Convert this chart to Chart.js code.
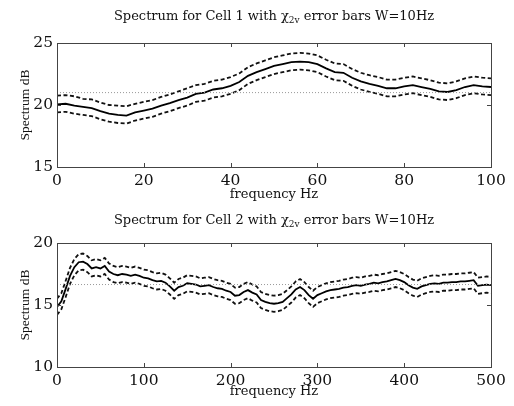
<!DOCTYPE html>
<html>
<head>
<meta charset="utf-8">
<script src="https://cdn.jsdelivr.net/npm/chart.js@4.4.1/dist/chart.umd.min.js"></script>
<style>
  body { margin: 0; background: #fff; }
  #wrap { position: relative; width: 514px; height: 406px; }
  canvas { position: absolute; left: 0; }
</style>
</head>
<body>
<div id="wrap">
  <canvas id="cell1" width="514" height="202" style="top:0"></canvas>
  <canvas id="cell2" width="514" height="199" style="top:200px"></canvas>
</div>
<script>
"use strict"

// Cell 1: spectrum every 2 Hz from 0 to 100 Hz (dB)
const step1 = 2;
const spec1 = [20.05, 20.1, 19.95, 19.85, 19.75, 19.5, 19.3, 19.2, 19.15, 19.4,
  19.55, 19.7, 19.95, 20.15, 20.4, 20.6, 20.9, 21.0, 21.25, 21.35,
  21.55, 21.85, 22.35, 22.65, 22.9, 23.15, 23.3, 23.45, 23.5, 23.45,
  23.3, 22.95, 22.65, 22.6, 22.2, 21.9, 21.7, 21.55, 21.35, 21.35,
  21.5, 21.6, 21.45, 21.3, 21.1, 21.05, 21.2, 21.45, 21.6, 21.5, 21.45];
const upper1 = [20.75, 20.8, 20.7, 20.5, 20.45, 20.2, 20.0, 19.95, 19.9, 20.1,
  20.25, 20.4, 20.65, 20.85, 21.1, 21.35, 21.6, 21.7, 21.95, 22.05,
  22.25, 22.55, 23.05, 23.35, 23.6, 23.85, 24.0, 24.15, 24.2, 24.15,
  24.0, 23.65, 23.35, 23.3, 22.9, 22.6, 22.4, 22.25, 22.05, 22.05,
  22.2, 22.3, 22.15, 22.0, 21.8, 21.75, 21.9, 22.15, 22.3, 22.2, 22.15];
const lower1 = [19.4, 19.45, 19.3, 19.2, 19.1, 18.85, 18.65, 18.55, 18.5, 18.75,
  18.9, 19.05, 19.3, 19.5, 19.75, 19.95, 20.25, 20.35, 20.6, 20.7,
  20.9, 21.2, 21.7, 22.0, 22.25, 22.5, 22.65, 22.8, 22.85, 22.8,
  22.65, 22.3, 22.0, 21.95, 21.55, 21.25, 21.05, 20.9, 20.7, 20.7,
  20.85, 20.95, 20.8, 20.65, 20.45, 20.4, 20.55, 20.8, 20.95, 20.85, 20.8];
const level1 = 21.0;

// Cell 2: spectrum every 5 Hz from 0 to 500 Hz (dB)
const step2 = 5;
const spec2 = [14.85, 15.3, 16.3, 17.35, 18.05, 18.45, 18.5, 18.3, 17.95, 18.05,
  17.95, 18.15, 17.7, 17.5, 17.4, 17.5, 17.45, 17.35, 17.45, 17.35,
  17.2, 17.15, 17.0, 16.9, 16.95, 16.8, 16.5, 16.15, 16.45, 16.55,
  16.75, 16.7, 16.65, 16.5, 16.55, 16.6, 16.45, 16.35, 16.3, 16.15,
  16.05, 15.75, 15.8, 16.05, 16.2, 16.0, 15.85, 15.4, 15.25, 15.15,
  15.1, 15.15, 15.25, 15.55, 15.85, 16.25, 16.45, 16.2, 15.8, 15.5,
  15.8, 15.95, 16.1, 16.2, 16.25, 16.3, 16.4, 16.45, 16.55, 16.6,
  16.55, 16.65, 16.7, 16.8, 16.75, 16.85, 16.9, 17.0, 17.1, 17.0,
  16.85, 16.6, 16.4, 16.3, 16.5, 16.6, 16.7, 16.75, 16.7, 16.8,
  16.8, 16.85, 16.85, 16.9, 16.9, 16.95, 17.0, 16.55, 16.6, 16.65, 16.6];
const upper2 = [15.5, 15.95, 16.95, 18.0, 18.7, 19.1, 19.15, 18.95, 18.6, 18.7,
  18.6, 18.8, 18.35, 18.15, 18.05, 18.15, 18.1, 18.0, 18.1, 18.0,
  17.85, 17.8, 17.65, 17.55, 17.6, 17.45, 17.15, 16.8, 17.1, 17.2,
  17.4, 17.35, 17.3, 17.15, 17.2, 17.25, 17.1, 17.0, 16.95, 16.8,
  16.7, 16.4, 16.45, 16.7, 16.85, 16.65, 16.5, 16.05, 15.9, 15.8,
  15.75, 15.8, 15.9, 16.2, 16.5, 16.9, 17.1, 16.85, 16.45, 16.15,
  16.45, 16.6, 16.75, 16.85, 16.9, 16.95, 17.05, 17.1, 17.2, 17.25,
  17.2, 17.3, 17.35, 17.45, 17.4, 17.5, 17.55, 17.65, 17.75, 17.65,
  17.5, 17.25, 17.05, 16.95, 17.15, 17.25, 17.35, 17.4, 17.35, 17.45,
  17.45, 17.5, 17.5, 17.55, 17.55, 17.6, 17.65, 17.2, 17.25, 17.3, 17.25];
const lower2 = [14.2, 14.65, 15.65, 16.7, 17.4, 17.8, 17.85, 17.65, 17.3, 17.4,
  17.3, 17.5, 17.05, 16.85, 16.75, 16.85, 16.8, 16.7, 16.8, 16.7,
  16.55, 16.5, 16.35, 16.25, 16.3, 16.15, 15.85, 15.5, 15.8, 15.9,
  16.1, 16.05, 16.0, 15.85, 15.9, 15.95, 15.8, 15.7, 15.65, 15.5,
  15.4, 15.1, 15.15, 15.4, 15.55, 15.35, 15.2, 14.75, 14.6, 14.5,
  14.45, 14.5, 14.6, 14.9, 15.2, 15.6, 15.8, 15.55, 15.15, 14.85,
  15.15, 15.3, 15.45, 15.55, 15.6, 15.65, 15.75, 15.8, 15.9, 15.95,
  15.9, 16.0, 16.05, 16.15, 16.1, 16.2, 16.25, 16.35, 16.45, 16.35,
  16.2, 15.95, 15.75, 15.65, 15.85, 15.95, 16.05, 16.1, 16.05, 16.15,
  16.15, 16.2, 16.2, 16.25, 16.25, 16.3, 16.35, 15.9, 15.95, 16.0, 15.95];
const level2 = 16.65;

// the reference text is stretched sideways: the wider DejaVu Serif fits
// horizontal text, Liberation Serif fits the rotated y title
const wideSerif = "'DejaVu Serif', serif";
const serif = "'Liberation Serif', 'Times New Roman', serif";

// pairs each value with its frequency
function points(values, step) {
  return values.map((v, i) => ({x: i * step, y: v}));
}

// MATLAB style box with inward ticks, plus the title with the subscript
const framePlugin = {
  id: "frame",
  afterDraw(chart, args, opts) {
    const {ctx, chartArea: a, scales} = chart;
    ctx.save();
    ctx.strokeStyle = "#444";
    ctx.lineWidth = 1;
    ctx.strokeRect(Math.round(a.left) + 0.5, Math.round(a.top) + 0.5, Math.round(a.width), Math.round(a.height));
    ctx.beginPath();
    scales.x.ticks.forEach(t => {
      const px = Math.round(scales.x.getPixelForValue(t.value)) + 0.5;
      ctx.moveTo(px, a.bottom); ctx.lineTo(px, a.bottom - 4);
      ctx.moveTo(px, a.top); ctx.lineTo(px, a.top + 4);
    });
    scales.y.ticks.forEach(t => {
      const py = Math.round(scales.y.getPixelForValue(t.value)) + 0.5;
      ctx.moveTo(a.left, py); ctx.lineTo(a.left + 4, py);
      ctx.moveTo(a.right, py); ctx.lineTo(a.right - 4, py);
    });
    ctx.stroke();

    // title: "... with χ" + subscript "2v" + " error bars W=10Hz"
    const big = "13px " + wideSerif;
    const small = "9px " + wideSerif;
    const parts = [[opts.before, big, 0], ["2v", small, 4], [opts.after, big, 0]];
    let width = 0;
    parts.forEach(p => { ctx.font = p[1]; width += ctx.measureText(p[0]).width; });
    let x = (a.left + a.right) / 2 - width / 2;
    ctx.fillStyle = "#111";
    ctx.textBaseline = "middle";
    ctx.textAlign = "left";
    parts.forEach(p => {
      ctx.font = p[1];
      ctx.fillText(p[0], x, opts.y + p[2]);
      x += ctx.measureText(p[0]).width;
    });
    ctx.restore();
  }
};

function makeChart(id, spec, upper, lower, level, step, xMax, yMin, yMax, xStep, cell, titleY, padTop, xAxisHeight) {
  const last = (spec.length - 1) * step;
  return new Chart(document.getElementById(id), {
    type: "line",
    data: {
      datasets: [
        {data: [{x: 0, y: level}, {x: last, y: level}], borderColor: "#999", borderWidth: 1, borderDash: [1, 2], pointRadius: 0},
        {data: points(upper, step), borderColor: "#111", borderWidth: 1.8, borderDash: [4, 2.5], pointRadius: 0},
        {data: points(lower, step), borderColor: "#111", borderWidth: 1.8, borderDash: [4, 2.5], pointRadius: 0},
        {data: points(spec, step), borderColor: "#000", borderWidth: 1.8, pointRadius: 0}
      ]
    },
    options: {
      responsive: false,
      animation: false,
      devicePixelRatio: 1,
      layout: {padding: {top: padTop, right: 23, left: 0, bottom: 0}},
      plugins: {
        legend: {display: false},
        tooltip: {enabled: false},
        frame: {before: `Spectrum for Cell ${cell} with χ`, after: " error bars W=10Hz", y: titleY}
      },
      scales: {
        x: {
          type: "linear", min: 0, max: xMax,
          grid: {display: false, drawTicks: false},
          border: {display: false},
          ticks: {stepSize: xStep, color: "#111", font: {family: wideSerif, size: 15.5}, padding: 5, maxRotation: 0},
          title: {display: true, text: "frequency Hz", color: "#111", font: {family: wideSerif, size: 13}, padding: {top: 0, bottom: 0}},
          afterFit: s => { s.height = xAxisHeight; }
        },
        y: {
          min: yMin, max: yMax,
          grid: {display: false, drawTicks: false},
          border: {display: false},
          ticks: {stepSize: 5, color: "#111", font: {family: wideSerif, size: 15.5}, padding: 4},
          title: {display: true, text: "Spectrum dB", color: "#111", font: {family: serif, size: 13.5}, padding: {top: 17, bottom: 0}},
          afterFit: s => { s.width = 57; }
        }
      }
    },
    plugins: [framePlugin]
  });
}

makeChart("cell1", spec1, upper1, lower1, level1, step1, 100, 15, 25, 20, 1, 17, 43, 35);
makeChart("cell2", spec2, upper2, lower2, level2, step2, 500, 10, 20, 100, 2, 21, 43, 32);
</script>
</body>
</html>
